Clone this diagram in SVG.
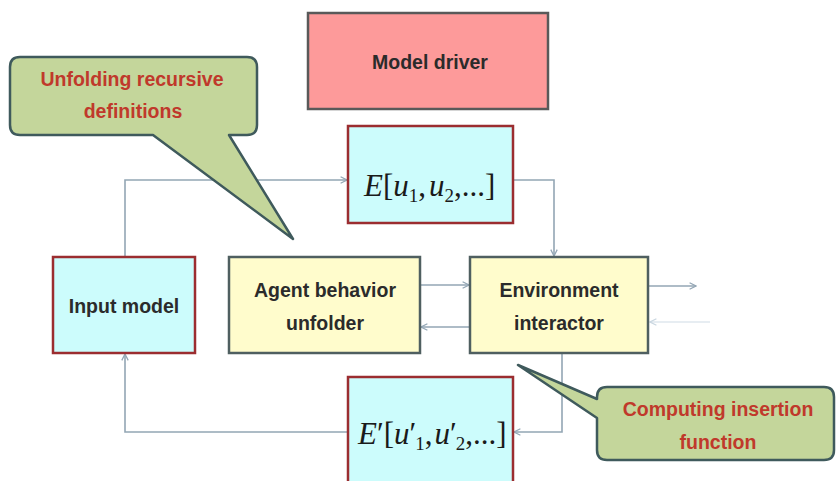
<svg xmlns="http://www.w3.org/2000/svg" width="836" height="481" viewBox="0 0 836 481">
<defs>
<style>
.lbl{font-family:"Liberation Sans",Arial,sans-serif;font-weight:bold;font-size:19.5px;fill:#2b2b2b;text-anchor:middle}
.call{font-family:"Liberation Sans",Arial,sans-serif;font-weight:bold;font-size:19.5px;fill:#c0392b;text-anchor:middle}
.math{font-family:"Liberation Serif","Times New Roman",serif;font-size:31px;fill:#1a1a1a}
.it{font-style:italic}
.sub{font-size:19px}
.conn{fill:none;stroke:#93a6b4;stroke-width:1.6}
.faint{fill:none;stroke:#dfe7ee;stroke-width:1.6}
.red{stroke:#9b2d30;stroke-width:2.5}
.gray{stroke:#4f5f60;stroke-width:2.5}
.cyan{fill:#ccfcfc}
.yel{fill:#fffccc}
.balloon{fill:#c4d69b;stroke:#3f5a5c;stroke-width:2.5;stroke-linejoin:round}
</style>
<marker id="arr" viewBox="0 0 10 10" refX="9" refY="5" markerWidth="8" markerHeight="8" markerUnits="userSpaceOnUse" orient="auto">
<path d="M1,1 L9,5 L1,9" fill="none" stroke="#93a6b4" stroke-width="1.6"/>
</marker>
<marker id="arrf" viewBox="0 0 10 10" refX="9" refY="5" markerWidth="8" markerHeight="8" markerUnits="userSpaceOnUse" orient="auto">
<path d="M1,1 L9,5 L1,9" fill="none" stroke="#c9d6e0" stroke-width="1.6"/>
</marker>
</defs>
<rect width="836" height="481" fill="#ffffff"/>

<g id="connectors">
<path class="conn" d="M125,257 V180 H347" marker-end="url(#arr)"/>
<path class="conn" d="M513,180 H554 V256" marker-end="url(#arr)"/>
<path class="conn" d="M420,285 H469" marker-end="url(#arr)"/>
<path class="conn" d="M470,327 H421" marker-end="url(#arr)"/>
<path class="conn" d="M648,286 H696" marker-end="url(#arr)"/>
<path class="faint" d="M710,322 H650" marker-end="url(#arrf)"/>
<path class="conn" d="M562,353 V432 H514" marker-end="url(#arr)"/>
<path class="conn" d="M348,432 H125 V354" marker-end="url(#arr)"/>
</g>

<g id="model-driver">
<rect x="308" y="13" width="240" height="96" fill="#fd9a9a" stroke="#595959" stroke-width="2.5"/>
<text class="lbl" x="430" y="69">Model driver</text>
</g>

<g id="e-box">
<rect x="348" y="126" width="165" height="97" class="cyan red"/>
<text class="math" x="364" y="196"><tspan class="it">E</tspan>[<tspan class="it">u</tspan><tspan class="sub" dy="6">1</tspan><tspan dy="-6">,</tspan><tspan class="it" dx="3">u</tspan><tspan class="sub" dy="6">2</tspan><tspan dy="-6">,...]</tspan></text>
</g>

<g id="input-model">
<rect x="53" y="257" width="142" height="96" class="cyan red"/>
<text class="lbl" x="124" y="313">Input model</text>
</g>

<g id="agent-behavior-unfolder">
<rect x="229" y="257" width="191" height="96" class="yel gray"/>
<text class="lbl" x="325" y="297">Agent behavior</text>
<text class="lbl" x="325" y="330">unfolder</text>
</g>

<g id="environment-interactor">
<rect x="470" y="257" width="178" height="96" class="yel gray"/>
<text class="lbl" x="559" y="297">Environment</text>
<text class="lbl" x="559" y="330">interactor</text>
</g>

<g id="e-prime-box">
<rect x="348" y="377" width="165" height="110" class="cyan red"/>
<text class="math" x="358" y="444"><tspan class="it">E</tspan>′[<tspan class="it">u</tspan>′<tspan class="sub" dx="-1" dy="6">1</tspan><tspan dy="-6">,</tspan><tspan class="it" dx="2">u</tspan>′<tspan class="sub" dx="-1" dy="6">2</tspan><tspan dy="-6">,...]</tspan></text>
</g>

<g id="callout-unfolding">
<path class="balloon" d="M20,57 H247 Q257,57 257,67 V125 Q257,135 247,135 H229 L293,239 L153,135 H20 Q10,135 10,125 V67 Q10,57 20,57 Z"/>
<text class="call" x="132" y="86">Unfolding recursive</text>
<text class="call" x="133" y="118">definitions</text>
</g>

<g id="callout-computing">
<path class="balloon" d="M607,387 H824 Q834,387 834,397 V450 Q834,460 824,460 H607 Q597,460 597,450 V418 L518,365 L597,399 V397 Q597,387 607,387 Z"/>
<text class="call" x="718" y="416">Computing insertion</text>
<text class="call" x="718" y="449">function</text>
</g>
</svg>
